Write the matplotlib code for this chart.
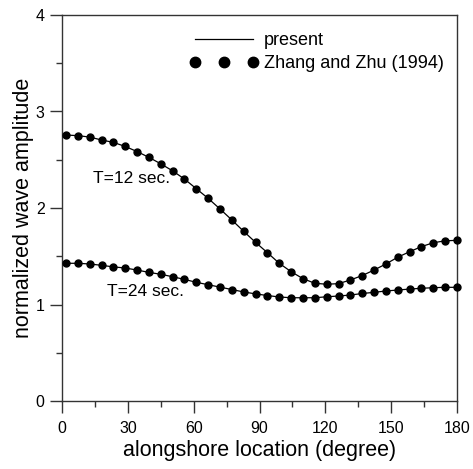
import matplotlib
matplotlib.use("Agg")
import matplotlib.pyplot as plt
from matplotlib.lines import Line2D
from matplotlib.ticker import MultipleLocator

plt.rcParams['font.family'] = ['Liberation Sans', 'DejaVu Sans']

# alongshore location (degree)
location = [1.8, 7.2, 12.6, 18.0, 23.4, 28.8, 34.2, 39.6, 45.0, 50.4, 55.8,
            61.2, 66.6, 72.0, 77.4, 82.8, 88.2, 93.6, 99.0, 104.4, 109.8,
            115.2, 120.6, 126.0, 131.4, 136.8, 142.2, 147.6, 153.0, 158.4,
            163.8, 169.2, 174.6, 180.0]

# normalized wave amplitude, T = 12 sec.
amp_t12 = [2.756, 2.75, 2.735, 2.705, 2.68, 2.638, 2.585, 2.525, 2.458, 2.385,
           2.30, 2.20, 2.10, 1.99, 1.876, 1.758, 1.644, 1.537, 1.427, 1.34,
           1.268, 1.22, 1.21, 1.216, 1.254, 1.30, 1.357, 1.42, 1.49, 1.547,
           1.60, 1.64, 1.66, 1.665]

# normalized wave amplitude, T = 24 sec.
amp_t24 = [1.427, 1.427, 1.42, 1.406, 1.39, 1.378, 1.357, 1.333, 1.313, 1.288,
           1.26, 1.23, 1.205, 1.18, 1.155, 1.13, 1.11, 1.093, 1.078, 1.07,
           1.07, 1.07, 1.08, 1.088, 1.098, 1.114, 1.126, 1.14, 1.15, 1.16,
           1.168, 1.174, 1.178, 1.178]

curve_labels = ["T=12 sec.", "T=24 sec."]
legend_labels = ["present", "Zhang and Zhu (1994)"]

x_ticks = [0, 30, 60, 90, 120, 150, 180]
y_ticks = [0, 1, 2, 3, 4]

fig = plt.figure(figsize=(4.73, 4.69), dpi=100)
ax = fig.add_axes([62/473, 68/469, 395/473, 386/469])

spine_color = '#333333'
for s in ax.spines.values():
    s.set_color(spine_color)
    s.set_linewidth(1.0)

for amp in (amp_t12, amp_t24):
    ax.plot(location, amp, color='black', lw=0.9, zorder=2)
    ax.plot(location, amp, ls='none', marker='o', ms=5.0, mfc='black',
            mec='black', zorder=3, clip_on=False)

ax.text(31.5, 2.31, curve_labels[0], fontsize=12.5, ha='center', va='center')
ax.text(38.0, 1.13, curve_labels[1], fontsize=12.5, ha='center', va='center')

ax.set_xlim(0, 180)
ax.set_ylim(0, 4)
ax.set_xticks(x_ticks)
ax.set_yticks(y_ticks)
ax.xaxis.set_minor_locator(MultipleLocator(15))
ax.yaxis.set_minor_locator(MultipleLocator(0.5))
ax.tick_params(which='major', direction='out', length=8.5, width=1.0,
               color=spine_color, labelsize=11.5)
ax.tick_params(axis='x', which='major', pad=6)
ax.tick_params(axis='y', which='major', pad=4)
ax.tick_params(which='minor', direction='out', length=4, width=1.0,
               color=spine_color)
ax.tick_params(top=False, right=False, which='both')

ax.set_xlabel("alongshore location (degree)", fontsize=15.5, labelpad=3)
ax.set_ylabel("normalized wave amplitude", fontsize=15.5, labelpad=1)

handles = [Line2D([], [], color='black', lw=0.9),
           Line2D([], [], ls='none', marker='o', ms=7.5, color='black')]
ax.legend(handles, legend_labels, loc='upper left',
          bbox_to_anchor=((190 - 62) / 395, (401 - 32) / 386),
          frameon=False, fontsize=13, numpoints=3, handlelength=3.8,
          handletextpad=0.3, labelspacing=0.35, borderpad=0, borderaxespad=0)

fig.savefig("out.png", dpi=100)
